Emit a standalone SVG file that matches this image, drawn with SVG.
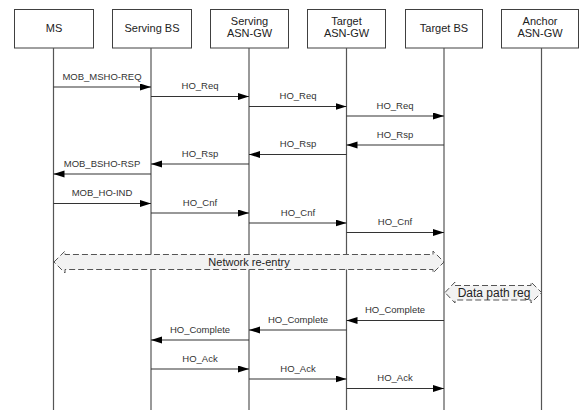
<svg xmlns="http://www.w3.org/2000/svg" width="579" height="414" viewBox="0 0 579 414">
<style>
.box{fill:#fff;stroke:#404040;stroke-width:1}
.bt{font-family:"Liberation Sans",Arial,sans-serif;font-size:11px;fill:#222;text-anchor:middle}
.life{stroke:#555;stroke-width:1.2;fill:none}
.msg{stroke:#333;stroke-width:1.2;fill:none}
.ml{font-family:"Liberation Sans",Arial,sans-serif;font-size:9.5px;fill:#333;text-anchor:middle}
.blk{fill:#f2f2f2;stroke:#555;stroke-width:1;stroke-dasharray:6,3}
.bl{font-family:"Liberation Sans",Arial,sans-serif;font-size:11px;fill:#222;text-anchor:middle}
</style>
<defs>
<marker id="ah" markerUnits="userSpaceOnUse" markerWidth="12" markerHeight="8" refX="11" refY="3.5" orient="auto">
<polygon points="0,0 11,3.5 0,7" fill="#000"/>
</marker>
</defs>
<rect width="579" height="414" fill="#fff"/>
<g id="ms"><rect class="box" x="14.5" y="9.5" width="79" height="38.5"/><text class="bt" x="54" y="32">MS</text><line class="life" x1="53.5" y1="48" x2="53.5" y2="410"/></g>
<g id="sbs"><rect class="box" x="112.5" y="9.5" width="79" height="38.5"/><text class="bt" x="152" y="32">Serving BS</text><line class="life" x1="151" y1="48" x2="151" y2="410"/></g>
<g id="sgw"><rect class="box" x="210.5" y="9.5" width="78" height="38.5"/><text class="bt" x="249.5" y="25">Serving</text><text class="bt" x="249.5" y="37">ASN-GW</text><line class="life" x1="249" y1="48" x2="249" y2="410"/></g>
<g id="tgw"><rect class="box" x="307.5" y="9.5" width="78" height="38.5"/><text class="bt" x="346.5" y="25">Target</text><text class="bt" x="346.5" y="37">ASN-GW</text><line class="life" x1="346.5" y1="48" x2="346.5" y2="410"/></g>
<g id="tbs"><rect class="box" x="405.5" y="9.5" width="77" height="38.5"/><text class="bt" x="444" y="32">Target BS</text><line class="life" x1="444" y1="48" x2="444" y2="410"/></g>
<g id="agw"><rect class="box" x="501.5" y="9.5" width="77" height="38.5"/><text class="bt" x="540" y="25">Anchor</text><text class="bt" x="540" y="37">ASN-GW</text><line class="life" x1="541.5" y1="48" x2="541.5" y2="410"/></g>
<g id="connectors">
<line class="msg" x1="53.5" y1="87" x2="151" y2="87" marker-end="url(#ah)"/><text class="ml" x="102" y="79.5">MOB_MSHO-REQ</text>
<line class="msg" x1="151" y1="96.5" x2="249" y2="96.5" marker-end="url(#ah)"/><text class="ml" x="200" y="89">HO_Req</text>
<line class="msg" x1="249" y1="106.5" x2="346.5" y2="106.5" marker-end="url(#ah)"/><text class="ml" x="298" y="99">HO_Req</text>
<line class="msg" x1="346.5" y1="116" x2="444" y2="116" marker-end="url(#ah)"/><text class="ml" x="395" y="108.5">HO_Req</text>
<line class="msg" x1="444" y1="145" x2="346.5" y2="145" marker-end="url(#ah)"/><text class="ml" x="395" y="137.5">HO_Rsp</text>
<line class="msg" x1="346.5" y1="154.5" x2="249" y2="154.5" marker-end="url(#ah)"/><text class="ml" x="298" y="147">HO_Rsp</text>
<line class="msg" x1="249" y1="164" x2="151" y2="164" marker-end="url(#ah)"/><text class="ml" x="200" y="156.5">HO_Rsp</text>
<line class="msg" x1="151" y1="174" x2="53.5" y2="174" marker-end="url(#ah)"/><text class="ml" x="102" y="166.5">MOB_BSHO-RSP</text>
<line class="msg" x1="53.5" y1="203.5" x2="151" y2="203.5" marker-end="url(#ah)"/><text class="ml" x="102" y="196">MOB_HO-IND</text>
<line class="msg" x1="151" y1="213" x2="249" y2="213" marker-end="url(#ah)"/><text class="ml" x="200" y="205.5">HO_Cnf</text>
<line class="msg" x1="249" y1="223" x2="346.5" y2="223" marker-end="url(#ah)"/><text class="ml" x="298" y="215.5">HO_Cnf</text>
<line class="msg" x1="346.5" y1="232.5" x2="444" y2="232.5" marker-end="url(#ah)"/><text class="ml" x="395" y="225">HO_Cnf</text>
<path class="blk" d="M54,262 L65,251 L65,254.5 L433,254.5 L433,251 L444,262 L433,273 L433,269.5 L65,269.5 L65,273 Z"/>
<text class="bl" x="249" y="265.5">Network re-entry</text>
<path class="blk" d="M445,292.5 L455,282 L455,285.5 L531,285.5 L531,282 L541.5,292.5 L531,303 L531,300 L455,300 L455,303 Z"/>
<text class="bl" x="494" y="297" style="font-size:12px">Data path reg</text>
<line class="msg" x1="444" y1="320.5" x2="346.5" y2="320.5" marker-end="url(#ah)"/><text class="ml" x="395" y="313">HO_Complete</text>
<line class="msg" x1="346.5" y1="330" x2="249" y2="330" marker-end="url(#ah)"/><text class="ml" x="298" y="322.5">HO_Complete</text>
<line class="msg" x1="249" y1="340" x2="151" y2="340" marker-end="url(#ah)"/><text class="ml" x="200" y="332.5">HO_Complete</text>
<line class="msg" x1="151" y1="369" x2="249" y2="369" marker-end="url(#ah)"/><text class="ml" x="200" y="361.5">HO_Ack</text>
<line class="msg" x1="249" y1="379" x2="346.5" y2="379" marker-end="url(#ah)"/><text class="ml" x="298" y="371.5">HO_Ack</text>
<line class="msg" x1="346.5" y1="388.5" x2="444" y2="388.5" marker-end="url(#ah)"/><text class="ml" x="395" y="381">HO_Ack</text>
</g>
</svg>
